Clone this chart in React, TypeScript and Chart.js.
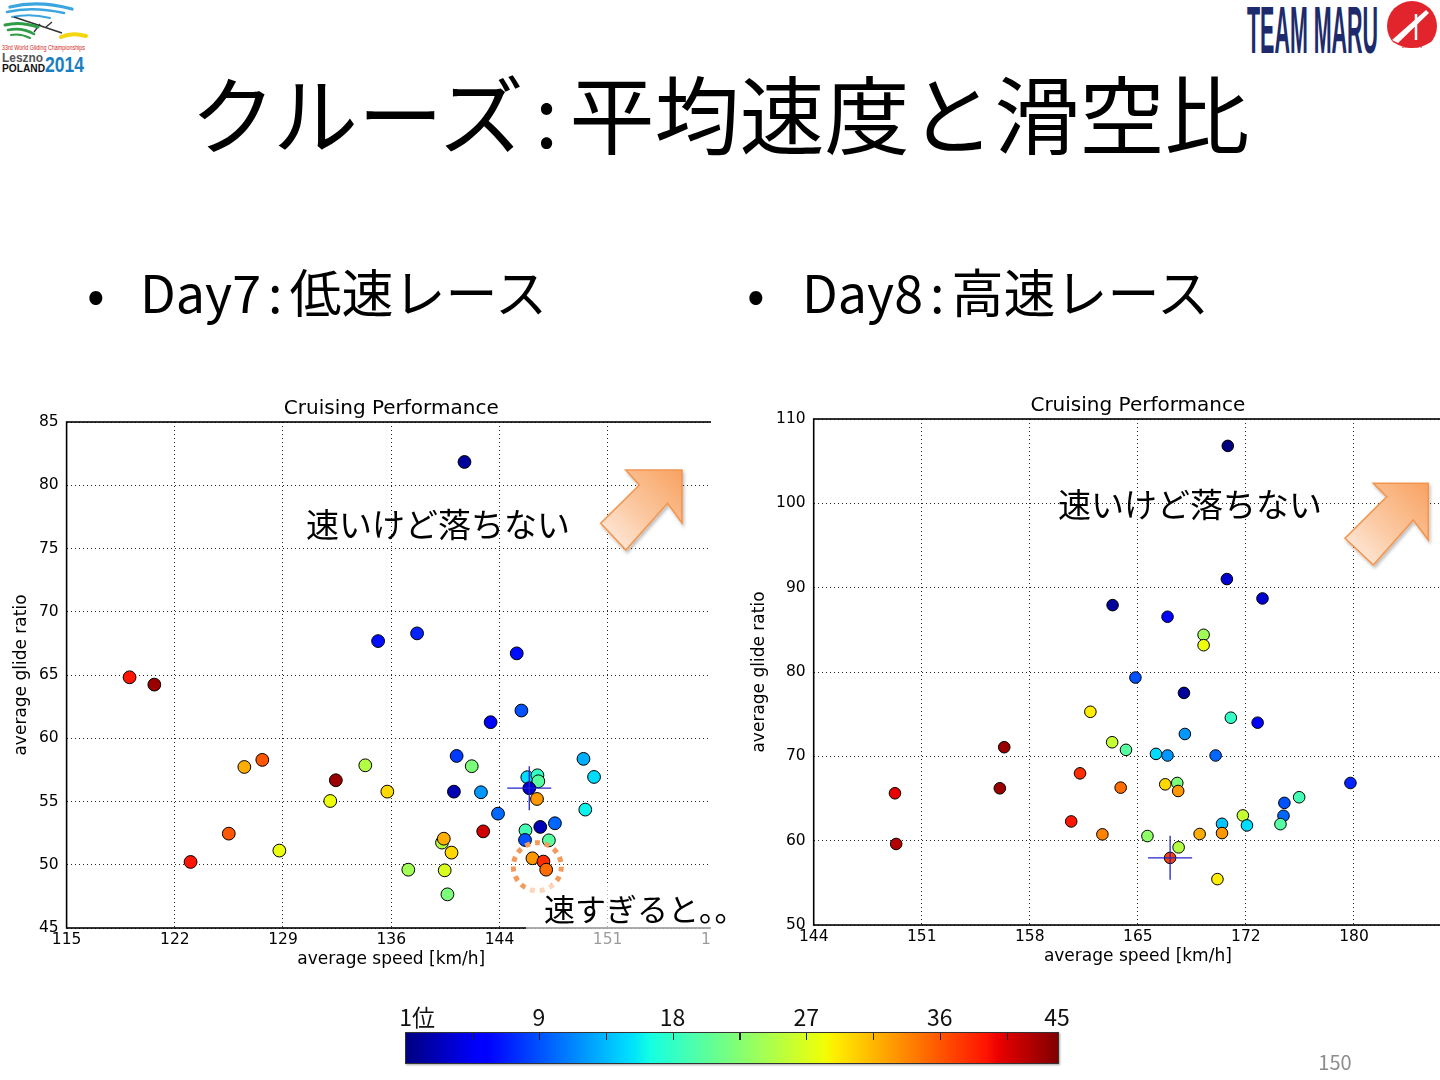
import React, { useEffect, useRef } from 'react';
import { Chart, registerables } from 'chart.js';

Chart.register(...registerables);

const FONT_AX = "'DejaVu Sans', 'Liberation Sans', sans-serif";
const FONT_JP = "'Noto Sans CJK JP', 'Noto Sans', sans-serif";

// ---------- Day 7 (low speed race) ----------
const day7Speed = [141.35, 135.63, 138.21, 144.81, 119.17, 120.81, 145.12, 143.08, 140.83, 141.83, 126.77, 127.96, 134.78, 132.83, 132.46, 136.24, 140.65, 142.44, 145.51, 146.18, 146.24, 145.64, 146.15, 149.23, 149.93, 149.35, 143.57, 146.37, 147.34, 145.39, 145.36, 146.94, 142.59, 125.74, 123.21, 129.09, 139.86, 139.98, 140.49, 137.63, 140.04, 140.22, 145.85, 146.58, 146.76];
const day7Glide = [81.84, 67.68, 68.29, 66.71, 64.82, 64.24, 62.19, 61.27, 58.6, 57.79, 57.73, 58.29, 57.86, 56.68, 55.04, 55.78, 55.78, 55.73, 56.92, 57.07, 56.6, 56.05, 55.2, 58.37, 56.94, 54.36, 54.04, 52.99, 53.28, 52.72, 51.96, 51.93, 52.64, 52.46, 50.22, 51.12, 51.75, 52.06, 50.96, 49.61, 49.56, 47.66, 50.51, 50.25, 49.61];
const day7Rank = [2, 7, 8, 7, 40, 44, 10, 6, 9, 23, 33, 37, 26, 44, 29, 31, 3, 13, 16, 19, 21, 4, 34, 14, 16, 17, 11, 3, 11, 20, 10, 21, 42, 37, 40, 29, 26, 33, 31, 25, 28, 23, 34, 39, 36];
const day7MarkSpeed = 145.64;
const day7MarkGlide = 56.05;
const day7XTicks = [115, 122.17, 129.33, 136.5, 143.67, 150.83, 158];
const day7XTickLabels = ['115', '122', '129', '136', '144', '151', '158'];
const day7YMin = 45;
const day7YMax = 85;
const day7YStep = 5;

// ---------- Day 8 (high speed race) ----------
const day8Speed = [171.21, 171.15, 163.64, 173.49, 167.25, 169.62, 169.62, 165.14, 168.33, 162.18, 171.41, 173.17, 168.39, 163.61, 164.52, 156.52, 166.49, 167.25, 170.41, 161.5, 179.27, 149.34, 156.23, 164.17, 167.1, 167.89, 167.95, 175.9, 174.93, 172.2, 174.87, 170.83, 172.47, 174.67, 160.92, 162.97, 165.93, 169.36, 170.83, 149.42, 167.98, 167.42, 170.53];
const day8Glide = [106.81, 91.02, 87.93, 88.72, 86.55, 84.41, 83.18, 79.34, 77.52, 75.28, 74.58, 73.99, 72.65, 71.67, 70.77, 71.08, 70.29, 70.1, 70.1, 67.98, 66.84, 65.62, 66.21, 66.29, 66.68, 66.84, 65.89, 65.15, 64.48, 62.99, 62.95, 62.0, 61.81, 61.96, 62.28, 60.75, 60.55, 60.79, 60.9, 59.61, 59.21, 57.96, 55.44];
const day8Rank = [1, 4, 2, 4, 6, 25, 29, 10, 2, 30, 19, 6, 13, 27, 21, 44, 16, 13, 11, 39, 8, 41, 44, 36, 31, 23, 34, 20, 10, 27, 11, 15, 16, 21, 40, 35, 24, 33, 34, 43, 26, 38, 30];
const day8MarkSpeed = 167.42;
const day8MarkGlide = 57.96;
const day8XTicks = [144, 151.1, 158.2, 165.3, 172.4, 179.5, 186.6];
const day8XTickLabels = ['144', '151', '158', '165', '172', '180', '187'];
const day8YMin = 50;
const day8YMax = 110;
const day8YStep = 10;

// ---------- colour bar ----------
const RANK_COUNT = 45;
const colorbarMin = 0;
const colorbarMax = 44;
const colorbarTicks = [4.5, 9, 13.5, 18, 22.5, 27, 31.5, 36, 40.5];
const colorbarLabels = ['1位', '9', '18', '27', '36', '45'];
const colorbarLabelValues = [0.8, 9, 18, 27, 36, 43.9];

// jet colormap anchors
const JET_R = [[0, 0], [0.35, 0], [0.66, 1], [0.89, 1], [1, 0.5]];
const JET_G = [[0, 0], [0.125, 0], [0.375, 1], [0.64, 1], [0.91, 0], [1, 0]];
const JET_B = [[0, 0.5], [0.11, 1], [0.34, 1], [0.65, 0], [1, 0]];

function seg(pts: number[][], t: number) {
  for (let i = 0; i < pts.length - 1; i++) {
    const [x0, y0] = pts[i];
    const [x1, y1] = pts[i + 1];
    if (t <= x1) return y0 + ((y1 - y0) * (t - x0)) / (x1 - x0 || 1);
  }
  return pts[pts.length - 1][1];
}
function jet(t: number) {
  const c = Math.max(0, Math.min(1, t));
  const r = Math.round(255 * seg(JET_R, c));
  const g = Math.round(255 * seg(JET_G, c));
  const b = Math.round(255 * seg(JET_B, c));
  return `rgb(${r},${g},${b})`;
}
function rankColor(rank: number) {
  return jet((rank - 1) / (RANK_COUNT - 1));
}
const jetStops = [0, 0.11, 0.125, 0.34, 0.35, 0.375, 0.5, 0.64, 0.65, 0.66, 0.89, 0.91, 1];

type PanelProps = {
  left: number;
  top: number;
  clipWidth: number;
  canvasWidth: number;
  canvasHeight: number;
  speeds: number[];
  glides: number[];
  ranks: number[];
  markSpeed: number;
  markGlide: number;
  xTicks: number[];
  xTickLabels: string[];
  yMin: number;
  yMax: number;
  yStep: number;
  pointRadius: number;
  yAxisWidth: number;
  xAxisHeight: number;
  padRight: number;
  titlePadTop: number;
  yTitlePad: number;
  xTitlePad: number;
};

function ScatterPanel(p: PanelProps) {
  const ref = useRef<HTMLCanvasElement>(null);
  useEffect(() => {
    const frame = {
      id: 'frame',
      beforeDatasetsDraw(chart: any) {
        const { ctx, chartArea: a } = chart;
        ctx.save();
        ctx.strokeStyle = '#000';
        ctx.lineWidth = 1.6;
        ctx.strokeRect(a.left, a.top, a.right - a.left, a.bottom - a.top);
        ctx.restore();
      },
    };
    const tickFont = { family: FONT_AX, size: 15.5 };
    const titleFont = { family: FONT_AX, size: 17 };
    const chart = new Chart(ref.current as HTMLCanvasElement, {
      type: 'scatter',
      data: {
        datasets: [
          {
            label: 'team',
            data: [{ x: p.markSpeed, y: p.markGlide }],
            pointStyle: 'cross',
            pointRadius: 22,
            pointBorderColor: '#2222cc',
            pointBorderWidth: 1.3,
            pointBackgroundColor: 'transparent',
          } as any,
          {
            label: 'pilots',
            data: p.speeds.map((s, i) => ({ x: s, y: p.glides[i] })),
            pointStyle: 'circle',
            pointRadius: p.pointRadius,
            pointBackgroundColor: p.ranks.map(rankColor),
            pointBorderColor: '#000',
            pointBorderWidth: 1,
          } as any,
        ],
      },
      options: {
        responsive: false,
        animation: false,
        events: [],
        layout: { padding: { top: 0, right: p.padRight, left: 0, bottom: 0 } },
        plugins: {
          legend: { display: false },
          tooltip: { enabled: false },
          title: {
            display: true,
            text: 'Cruising Performance',
            fullSize: false,
            color: '#000',
            font: { family: FONT_AX, size: 20, weight: 'normal' },
            padding: { top: p.titlePadTop, bottom: 1 },
          },
        },
        scales: {
          x: {
            type: 'linear',
            min: p.xTicks[0],
            max: p.xTicks[p.xTicks.length - 1],
            afterBuildTicks: (s: any) => {
              s.ticks = p.xTicks.map((v) => ({ value: v }));
            },
            afterFit: (s: any) => {
              s.height = p.xAxisHeight;
            },
            ticks: {
              autoSkip: false,
              maxRotation: 0,
              padding: 3,
              color: '#000',
              font: tickFont,
              callback: (_v: any, i: number) => p.xTickLabels[i],
            },
            grid: { color: 'rgba(0,0,0,0.85)', lineWidth: 1, drawTicks: false },
            border: { display: false, dash: [1, 3] },
            title: {
              display: true,
              text: 'average speed [km/h]',
              color: '#000',
              font: titleFont,
              padding: { top: 0, bottom: p.xTitlePad },
            },
          },
          y: {
            type: 'linear',
            min: p.yMin,
            max: p.yMax,
            afterFit: (s: any) => {
              s.width = p.yAxisWidth;
            },
            ticks: { stepSize: p.yStep, padding: 8, color: '#000', font: tickFont },
            grid: { color: 'rgba(0,0,0,0.85)', lineWidth: 1, drawTicks: false },
            border: { display: false, dash: [1, 3] },
            title: {
              display: true,
              text: 'average glide ratio',
              color: '#000',
              font: titleFont,
              padding: { top: p.yTitlePad, bottom: 0 },
            },
          },
        },
      } as any,
      plugins: [frame],
    });
    return () => chart.destroy();
  }, []);
  return (
    <div
      style={{
        position: 'absolute',
        left: p.left,
        top: p.top,
        width: p.clipWidth,
        height: p.canvasHeight,
        overflow: 'hidden',
      }}
    >
      <canvas
        ref={ref}
        width={p.canvasWidth}
        height={p.canvasHeight}
        style={{ display: 'block', width: p.canvasWidth, height: p.canvasHeight }}
      />
    </div>
  );
}

function Arrow({ pts, id }: { pts: number[][]; id: string }) {
  return (
    <g filter="url(#shadow)">
      <defs>
        <linearGradient id={id} x1="1" y1="0" x2="0" y2="1">
          <stop offset="0" stopColor="#f8a261" />
          <stop offset="0.55" stopColor="#fbcaa4" />
          <stop offset="1" stopColor="#fef1e8" />
        </linearGradient>
      </defs>
      <polygon
        points={pts.map((q) => q.join(',')).join(' ')}
        fill={`url(#${id})`}
        stroke="#f29550"
        strokeWidth={1.6}
        strokeLinejoin="miter"
      />
    </g>
  );
}

const leftArrow = [[625.8, 470], [682, 470], [682, 523], [667.6, 503.3], [625.8, 550], [600.7, 523.3], [639.3, 485]];
const rightArrow = [[1373.3, 483.3], [1428.3, 483.3], [1428.3, 540], [1413.3, 520], [1373.3, 565], [1345, 538.3], [1386.7, 496.7]];

function Colorbar() {
  const left = 405.3;
  const width = 653.3;
  const top = 1032;
  const height = 32;
  const toX = (v: number) => ((v - colorbarMin) / (colorbarMax - colorbarMin)) * width;
  const grad = `linear-gradient(to right, ${jetStops.map((t) => `${jet(t)} ${(t * 100).toFixed(2)}%`).join(', ')})`;
  return (
    <>
      <div
        style={{
          position: 'absolute',
          left,
          top,
          width,
          height,
          background: grad,
          boxSizing: 'border-box',
          border: '1.5px solid #333',
          boxShadow: '1px 1px 2px rgba(0,0,0,0.35)',
        }}
      >
        {colorbarTicks.map((v, i) => (
          <div
            key={i}
            style={{ position: 'absolute', left: toX(v) - 1, top: 0, width: 1.3, height: 7, background: '#222' }}
          />
        ))}
      </div>
      {colorbarLabels.map((t, i) => (
        <div
          key={t}
          style={{
            position: 'absolute',
            left: left + toX(colorbarLabelValues[i]) - 40,
            width: 80,
            top: 1005,
            textAlign: 'center',
            fontFamily: FONT_JP,
            fontSize: 23,
            lineHeight: '23px',
            color: '#111',
          }}
        >
          {t}
        </div>
      ))}
    </>
  );
}

export default function App() {
  const jp = { fontFamily: FONT_JP, color: '#000', position: 'absolute' as const, whiteSpace: 'nowrap' as const };
  return (
    <div
      style={{
        position: 'absolute',
        left: 0,
        top: 0,
        width: 1440,
        height: 1080,
        background: '#fff',
        overflow: 'hidden',
      }}
    >
      {/* top-left logo */}
      <svg style={{ position: 'absolute', left: 0, top: 0 }} width={92} height={76}>
        <path d="M10,7 Q38,0 72,9" stroke="#3aa5de" strokeWidth={3.2} fill="none" strokeLinecap="round" />
        <path d="M7,12 Q32,6 64,13" stroke="#3aa5de" strokeWidth={2.6} fill="none" strokeLinecap="round" />
        <path d="M12,17 Q30,13 50,18" stroke="#3aa5de" strokeWidth={2} fill="none" strokeLinecap="round" />
        <path d="M14,17 L62,33" stroke="#333" strokeWidth={1.6} />
        <path d="M40,24 L34,32 M46,27 L52,22" stroke="#333" strokeWidth={1.4} />
        <path d="M5,25 Q20,21 38,27" stroke="#2e9d45" strokeWidth={3} fill="none" strokeLinecap="round" />
        <path d="M8,30 Q22,27 34,34" stroke="#2e9d45" strokeWidth={2.6} fill="none" strokeLinecap="round" />
        <path d="M11,35 Q20,33 30,38" stroke="#2e9d45" strokeWidth={2} fill="none" strokeLinecap="round" />
        <path d="M61,37 Q72,32 86,36" stroke="#f4d60f" strokeWidth={4} fill="none" strokeLinecap="round" />
        <text x={2} y={50} fontSize={6.5} fill="#d0281e" fontFamily="'Liberation Sans', sans-serif" textLength={83} lengthAdjust="spacingAndGlyphs">
          33rd World Gliding Championships
        </text>
        <text x={2} y={62} fontSize={12.5} fontWeight={700} fill="#555" fontFamily="'Liberation Sans', sans-serif" textLength={41} lengthAdjust="spacingAndGlyphs">
          Leszno
        </text>
        <text x={2} y={72} fontSize={10.5} fontWeight={700} fill="#111" fontFamily="'Liberation Sans', sans-serif" textLength={43} lengthAdjust="spacingAndGlyphs">
          POLAND
        </text>
        <text x={45} y={72} fontSize={22} fontWeight={700} fill="#1a7fc1" fontFamily="'Liberation Sans', sans-serif" textLength={39} lengthAdjust="spacingAndGlyphs">
          2014
        </text>
      </svg>

      {/* top-right logo */}
      <svg style={{ position: 'absolute', left: 1240, top: 0 }} width={200} height={60}>
        <text x={7} y={53} fontSize={66} fontWeight={900} fill="#1d2a6c" fontFamily="'Liberation Sans', sans-serif" textLength={131} lengthAdjust="spacingAndGlyphs">
          TEAM MARU
        </text>
        <circle cx={172} cy={26} r={25} fill="#e2252c" />
        <path d="M152,40 L186,10 L189,13 L158,43 Z" fill="#fff" />
        <path d="M176,14 L176,40" stroke="#fff" strokeWidth={2.5} />
        <path d="M153,42 Q172,54 191,42 L189,48 Q172,56 155,48 Z" fill="#fff" />
        <text x={172} y={48} fontSize={6.5} fill="#e2252c" textAnchor="middle" fontFamily="'Liberation Sans', sans-serif">
          JAPAN
        </text>
      </svg>

      {/* title */}
      <div style={{ ...jp, left: 0, width: 1440, top: 68, textAlign: 'center', fontSize: 85, lineHeight: '85px' }}>
        クルーズ<span style={{ margin: '0 11px' }}>:</span>平均速度と滑空比
      </div>

      {/* bullets */}
      <div style={{ ...jp, left: 87, top: 265, fontSize: 52, lineHeight: '52px' }}>
        <span style={{ display: 'inline-block', width: 53 }}>•</span>Day7<span style={{ margin: '0 7px' }}>:</span>低速レース
      </div>
      <div style={{ ...jp, left: 747, top: 265, fontSize: 52, lineHeight: '52px' }}>
        <span style={{ display: 'inline-block', width: 55 }}>•</span>Day8<span style={{ margin: '0 7px' }}>:</span>高速レース
      </div>

      <ScatterPanel
        left={0}
        top={390}
        clipWidth={711}
        canvasWidth={780}
        canvasHeight={590}
        speeds={day7Speed}
        glides={day7Glide}
        ranks={day7Rank}
        markSpeed={day7MarkSpeed}
        markGlide={day7MarkGlide}
        xTicks={day7XTicks}
        xTickLabels={day7XTickLabels}
        yMin={day7YMin}
        yMax={day7YMax}
        yStep={day7YStep}
        pointRadius={6.4}
        yAxisWidth={66.6}
        xAxisHeight={52}
        padRight={64.1}
        titlePadTop={7}
        yTitlePad={11.8}
        xTitlePad={9.8}
      />
      <ScatterPanel
        left={740}
        top={390}
        clipWidth={700}
        canvasWidth={760}
        canvasHeight={590}
        speeds={day8Speed}
        glides={day8Glide}
        ranks={day8Rank}
        markSpeed={day8MarkSpeed}
        markGlide={day8MarkGlide}
        xTicks={day8XTicks}
        xTickLabels={day8XTickLabels}
        yMin={day8YMin}
        yMax={day8YMax}
        yStep={day8YStep}
        pointRadius={5.8}
        yAxisWidth={73.7}
        xAxisHeight={55}
        padRight={38}
        titlePadTop={4}
        yTitlePad={9.8}
        xTitlePad={12.8}
      />

      {/* annotations */}
      <svg style={{ position: 'absolute', left: 0, top: 0, pointerEvents: 'none' }} width={1440} height={1080}>
        <defs>
          <filter id="shadow" x="-20%" y="-20%" width="150%" height="150%">
            <feDropShadow dx="1.5" dy="2.5" stdDeviation="1.8" floodColor="#000" floodOpacity="0.25" />
          </filter>
        </defs>
        <Arrow pts={leftArrow} id="ga1" />
        <Arrow pts={rightArrow} id="ga2" />
        <circle cx={537.3} cy={866.7} r={24} fill="none" stroke="#f39a5a" strokeWidth={5} strokeDasharray="5 5" />
        <rect x={526} y={884} width={260} height={70} fill="rgba(255,255,255,0.6)" />
      </svg>

      <div style={{ ...jp, left: 306, top: 506.6, fontSize: 33, lineHeight: '33px' }}>速いけど落ちない</div>
      <div style={{ ...jp, left: 1058, top: 486.6, fontSize: 33, lineHeight: '33px' }}>速いけど落ちない</div>
      <div style={{ ...jp, left: 544, top: 891.8, fontSize: 31, lineHeight: '31px' }}>速すぎると。。</div>

      <Colorbar />

      <div style={{ position: 'absolute', left: 1300, width: 70, textAlign: 'center', top: 1051.5, fontFamily: FONT_JP, fontSize: 20, lineHeight: '20px', color: '#8c8c8c' }}>
        150
      </div>
    </div>
  );
}
